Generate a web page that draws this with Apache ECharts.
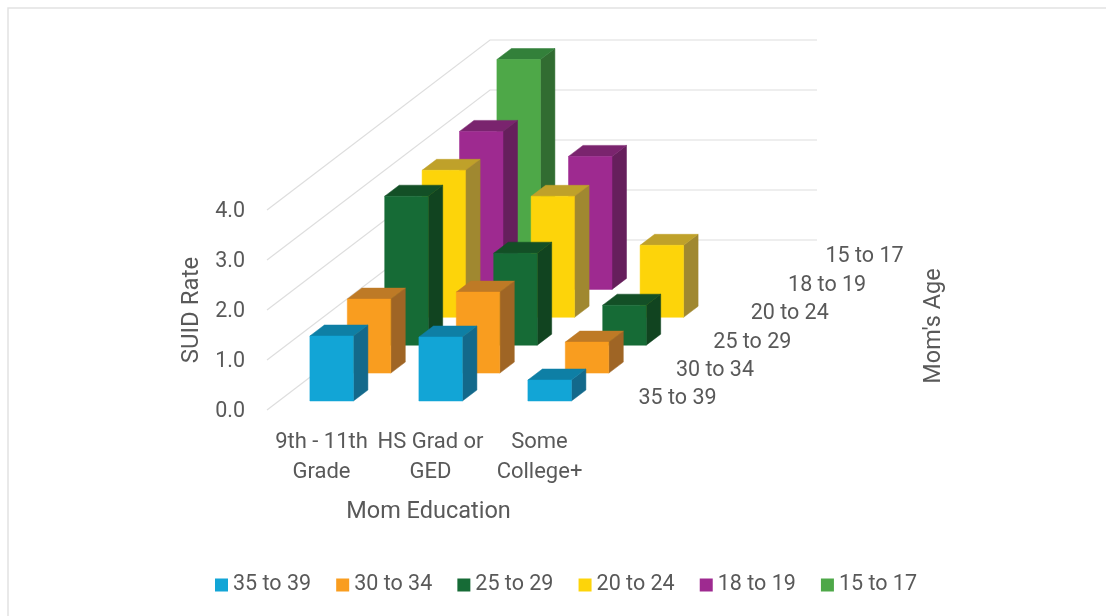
<!DOCTYPE html>
<html>
<head>
<meta charset="utf-8">
<style>html,body{margin:0;padding:0;background:#fff}#main{width:1106px;height:616px}</style>
<script src="https://cdn.jsdelivr.net/npm/echarts@6/dist/echarts.min.js"></script>
</head>
<body>
<div id="main"></div>
<script>
// SUID rate by mother's education and age
const educationLevels = ['9th - 11th\nGrade', 'HS Grad or\nGED', 'Some\nCollege+'];
const ageGroups = ['35 to 39', '30 to 34', '25 to 29', '20 to 24', '18 to 19', '15 to 17'];
const rate35to39 = [1.30, 1.28, 0.42];
const rate30to34 = [1.48, 1.62, 0.62];
const rate25to29 = [2.98, 1.84, 0.80];
const rate20to24 = [2.94, 2.42, 1.44];
const rate18to19 = [3.16, 2.66, null];
const rate15to17 = [4.04, null, null];
const ageRates = [rate35to39, rate30to34, rate25to29, rate20to24, rate18to19, rate15to17];
const valueTicks = [0, 1, 2, 3, 4];
const ageColors = ['#12A5D6', '#F99D1F', '#166B36', '#FDD40A', '#9E2A90', '#4EA848'];
const topColors = ['#0E7FA5', '#BE7A26', '#134F26', '#BFA12A', '#7A246E', '#33803A'];
const sideColors = ['#13698B', '#9F6525', '#114420', '#A08830', '#661F5C', '#316C31'];

// Oblique projection of the depth axis, in pixels
const depthStep = [37.4, -27.9];
const barWidth = 43.5;
const barDepth = [14.5, -11];
const barInset = -11.6;
const frontBase = 9;
const wallDepth = [223, -170];
const wallWidth = 327;

const textColor = '#595959';
const fontFamily = 'Roboto, "Noto Sans", sans-serif';

function renderBar(depthIndex) {
  return function (params, api) {
    const cat = api.value(0);
    const val = api.value(1);
    const base = api.coord([cat, 0]);
    const top = api.coord([cat, val]);
    const x0 = base[0] + barInset + depthIndex * depthStep[0];
    const x1 = x0 + barWidth;
    const yb = base[1] - frontBase + depthIndex * depthStep[1];
    const yt = yb - (base[1] - top[1]);
    const dx = barDepth[0], dy = barDepth[1];
    const face = (pts, fill) => ({ type: 'polygon', shape: { points: pts }, style: { fill: fill, stroke: fill, lineWidth: 0.5 } });
    return {
      type: 'group',
      children: [
        face([[x1, yb], [x1 + dx, yb + dy], [x1 + dx, yt + dy], [x1, yt]], sideColors[depthIndex]),
        face([[x0, yt], [x1, yt], [x1 + dx, yt + dy], [x0 + dx, yt + dy]], topColors[depthIndex]),
        face([[x0, yb], [x1, yb], [x1, yt], [x0, yt]], ageColors[depthIndex])
      ]
    };
  };
}

const barSeries = ageGroups.map((name, d) => ({
  name: name,
  type: 'custom',
  coordinateSystem: 'cartesian2d',
  z: 20 - d,
  itemStyle: { color: ageColors[d] },
  renderItem: renderBar(d),
  encode: { x: 0, y: 1 },
  data: ageRates[d].map((v, i) => (v === null ? null : [i, v])).filter(Boolean),
  clip: false
}));

// Gridlines running along the side wall and then across the back wall
const wallSeries = {
  type: 'custom',
  coordinateSystem: 'cartesian2d',
  z: 1,
  silent: true,
  clip: false,
  encode: { y: 0 },
  data: valueTicks.map(v => [v]),
  renderItem: function (params, api) {
    const p = api.coord([0, api.value(0)]);
    const x = p[0] - api.size([1, 0])[0] / 2;
    const a = [x, p[1]];
    const b = [x + wallDepth[0], p[1] + wallDepth[1]];
    const c = [b[0] + wallWidth, b[1]];
    return {
      type: 'polyline',
      shape: { points: [a, b, c] },
      style: { fill: 'none', stroke: '#DEDEDE', lineWidth: 1.2 }
    };
  }
};

// Age labels stepping back along the depth axis
const ageLabelSeries = {
  type: 'custom',
  coordinateSystem: 'cartesian2d',
  z: 25,
  silent: true,
  clip: false,
  encode: { x: 0 },
  data: ageGroups.map((n, d) => [2, d, n]),
  renderItem: function (params, api) {
    const d = api.value(1);
    const p = api.coord([2, 0]);
    return {
      type: 'text',
      style: {
        x: p[0] + 99 + d * depthStep[0],
        y: p[1] - 11 + d * -28.4,
        text: ageGroups[d],
        fill: textColor,
        font: '21.5px ' + fontFamily,
        align: 'left',
        verticalAlign: 'middle'
      }
    };
  }
};

const chart = echarts.init(document.getElementById('main'), null, { renderer: 'canvas' });
chart.setOption({
  animation: false,
  backgroundColor: '#fff',
  textStyle: { fontFamily: fontFamily },
  grid: { left: 267, top: 210, width: 327, height: 200 },
  xAxis: {
    type: 'category',
    data: educationLevels,
    axisLine: { show: false },
    axisTick: { show: false },
    splitLine: { show: false },
    axisLabel: { color: textColor, fontSize: 22, lineHeight: 30, margin: 17, interval: 0, fontFamily: fontFamily },
    name: 'Mom Education',
    nameLocation: 'middle',
    nameGap: 90,
    nameTextStyle: { color: textColor, fontSize: 23.5, fontFamily: fontFamily, padding: [0, 4, 0, 0] }
  },
  yAxis: {
    type: 'value',
    min: 0,
    max: 4,
    interval: 1,
    axisLine: { show: false },
    axisTick: { show: false },
    splitLine: { show: false },
    axisLabel: { color: textColor, fontSize: 21.5, margin: 22, verticalAlign: 'top', lineHeight: 4, fontFamily: fontFamily, formatter: v => v.toFixed(1) },
    name: 'SUID Rate',
    nameLocation: 'middle',
    nameGap: 63,
    nameTextStyle: { color: textColor, fontSize: 24, fontFamily: fontFamily }
  },
  legend: {
    bottom: 15,
    left: 210,
    itemWidth: 13,
    itemHeight: 13,
    itemGap: 25.1,
    icon: 'rect',
    data: ageGroups,
    textStyle: { color: textColor, fontSize: 21.5, fontFamily: fontFamily, padding: [0, 0, 0, 0] }
  },
  graphic: [
    { type: 'polyline', silent: true, shape: { points: [[8, 616], [8, 8], [1106, 8]] }, style: { fill: 'none', stroke: '#E2E2E2', lineWidth: 1.5 } },
    { type: 'text', silent: true, x: 934, y: 326, rotation: Math.PI / 2, style: { text: "Mom's Age", fill: textColor, font: '23.5px ' + fontFamily, align: 'center', verticalAlign: 'middle' } }
  ],
  series: [wallSeries].concat(barSeries, [ageLabelSeries])
});
</script>
</body>
</html>
